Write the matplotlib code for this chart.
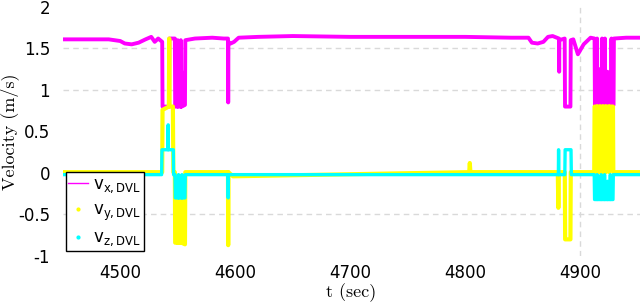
# DVL velocity components vs time
import matplotlib
matplotlib.use('Agg')
import matplotlib.pyplot as plt
from matplotlib.lines import Line2D

# --- data (t in sec, v in m/s) ---
t_x = [4450, 4470, 4490, 4500, 4504, 4510, 4516, 4522, 4527, 4530, 4533, 4536.5,
       4536.8, 4542.5, 4542.8, 4547.5, 4547.8, 4549.8, 4550.0, 4550.2, 4552.5, 4552.7,
       4552.9, 4553.3, 4553.5, 4556.3, 4556.6,
       4565, 4580, 4590, 4593.7, 4593.9, 4594.1, 4596, 4599, 4603, 4620, 4650, 4700,
       4750, 4800, 4840, 4855, 4858, 4863, 4868, 4872, 4876,
       4881.5, 4881.7, 4881.9, 4886.5, 4886.8, 4891.5, 4891.8, 4894, 4898, 4903, 4909,
       4912.5, 4912.8, 4914.5, 4914.7, 4914.9, 4916.5, 4916.7, 4916.9, 4918.8, 4919.0,
       4919.2, 4921.3, 4921.5, 4921.7, 4923.5, 4923.7, 4923.9, 4925.0, 4925.2, 4925.4,
       4927.0, 4927.2, 4927.4, 4929.0, 4929.3, 4940, 4952]
v_x = [1.61, 1.61, 1.61, 1.59, 1.56, 1.55, 1.57, 1.61, 1.64, 1.58, 1.62, 1.58,
       0.80, 0.80, 1.62, 1.62, 0.80, 0.80, 1.60, 0.80, 0.80, 1.60,
       0.80, 1.22, 0.80, 0.82, 1.60,
       1.62, 1.63, 1.62, 1.62, 0.85, 1.58, 1.56, 1.58, 1.63, 1.64, 1.65, 1.64,
       1.64, 1.64, 1.63, 1.63, 1.57, 1.56, 1.58, 1.64, 1.65,
       1.62, 1.22, 1.60, 1.62, 0.80, 0.80, 1.60, 1.61, 1.43, 1.55, 1.63,
       1.62, 0.82, 0.82, 1.62, 0.82, 0.82, 1.25, 0.82, 0.82, 1.62,
       0.82, 0.82, 1.62, 0.82, 0.82, 1.22, 0.82, 0.82, 1.20, 0.82,
       0.82, 1.62, 0.82, 0.82, 1.62, 1.63, 1.63]

t_y = [4450, 4536.5, 4536.8, 4542.3, 4542.6, 4542.9, 4545.8, 4546.2, 4547.5, 4547.8,
       4549.5, 4549.7, 4549.9, 4551.5, 4551.7, 4551.9, 4553.0, 4553.2, 4553.4, 4556.3,
       4556.6, 4593.7, 4593.9, 4594.1, 4598, 4803.5, 4804, 4804.5,
       4880.5, 4881, 4881.5, 4886.6, 4886.9, 4891.5, 4891.8,
       4912.2, 4912.5, 4914.5, 4914.7, 4914.9, 4917.0, 4917.2, 4917.4, 4919.5, 4919.7,
       4919.9, 4922.0, 4922.2, 4922.4, 4925.0, 4925.2, 4925.4, 4928.5, 4928.8, 4952]
v_y = [0.01, 0.01, 0.76, 0.80, 1.62, 0.80, 0.80, 0.01, 0.01, -0.84,
       -0.84, -0.30, -0.84, -0.84, -0.20, -0.84, -0.84, -0.30, -0.84, -0.86,
       0.01, 0.01, -0.87, 0.01, -0.04, 0.01, 0.12, 0.01,
       0.01, -0.42, 0.01, 0.01, -0.80, -0.80, 0.01,
       0.01, 0.80, 0.80, 0.01, 0.80, 0.80, 0.01, 0.80, 0.80, 0.01,
       0.80, 0.80, 0.01, 0.80, 0.80, 0.01, 0.80, 0.80, 0.01, 0.01]

t_z = [4450, 4536.0, 4536.3, 4541.5, 4541.7, 4541.9, 4546.2, 4546.4, 4547.6, 4547.9,
       4550.5, 4550.7, 4550.9, 4553.5, 4553.7, 4553.9, 4556.3, 4556.6,
       4593.7, 4593.9, 4594.1,
       4881.0, 4881.2, 4881.4, 4886.6, 4886.9, 4892.0, 4892.3,
       4912.2, 4912.5, 4914.5, 4914.7, 4914.9, 4918.0, 4918.2, 4918.4, 4921.0, 4921.2,
       4921.4, 4923.6, 4923.8, 4924.0, 4926.0, 4926.2, 4926.4, 4928.5, 4928.8, 4952]
v_z = [-0.02, -0.02, 0.28, 0.28, 0.58, 0.28, 0.28, -0.02, -0.02, -0.30,
       -0.30, -0.02, -0.30, -0.30, -0.02, -0.30, -0.30, -0.02,
       -0.02, -0.30, -0.02,
       -0.02, 0.28, -0.02, -0.02, 0.28, 0.28, -0.02,
       -0.02, -0.32, -0.32, -0.02, -0.32, -0.32, -0.02, -0.32, -0.32, -0.02,
       -0.32, -0.32, -0.10, -0.32, -0.32, -0.02, -0.32, -0.32, -0.02, -0.02]

y_ticks = [-1, -0.5, 0, 0.5, 1, 1.5, 2]
y_ticklabels = ['-1', '-0.5', '0', '0.5', '1', '1.5', '2']
y_marks = [-1, -0.5, 0, 1, 1.5]      # petits traits visibles
y_grid = [-0.5, 1, 1.5]              # lignes pointillees visibles
x_ticks = [4500, 4600, 4700, 4800, 4900]
labels = [r'$\mathregular{v_{x,DVL}}$', r'$\mathregular{v_{y,DVL}}$', r'$\mathregular{v_{z,DVL}}$']
colors = ['#ff00ff', '#ffff00', '#00ffff']

fig = plt.figure(figsize=(6.4, 3.04), dpi=100)
ax = fig.add_axes([0.098, 0.158, 0.902, 0.819])

# grille: quelques lignes horizontales, verticale seulement a 4900
for yv in y_grid:
    ax.axhline(yv, color='#d9d9d9', lw=1, ls=(0, (4, 3)), zorder=0)
ax.axvline(4900, color='#d9d9d9', lw=1, ls=(0, (4, 3)), zorder=0)

ax.plot(t_x, v_x, color=colors[0], lw=2.8, zorder=2)
ax.plot(t_y, v_y, color=colors[1], lw=3.0, zorder=3)
ax.plot(t_z, v_z, color=colors[2], lw=2.4, zorder=4)

ax.set_xlim(4450, 4952)
ax.set_ylim(-1, 2)
ax.set_yticks(y_ticks)
ax.set_yticklabels(y_ticklabels)
ax.set_yticks(y_marks, minor=True)
ax.set_xticks(x_ticks)
ax.set_xticks([4900], minor=True)
for s in ax.spines.values():
    s.set_visible(False)
ax.tick_params(axis='y', which='major', length=0, labelsize=12, pad=9)
ax.tick_params(axis='y', which='minor', direction='in', length=4, color='#555555',
               left=True, right=True)
ax.tick_params(axis='x', which='major', length=0, labelsize=12, pad=6)
ax.tick_params(axis='x', which='minor', direction='in', length=6, color='#555555',
               top=True, bottom=True)

ax.set_xlabel('t (sec)', fontname='cmr10', fontsize=13)
ax.set_ylabel('Velocity (m/s)', fontname='cmr10', fontsize=13)
ax.xaxis.set_label_coords(0.5, -0.11)
ax.yaxis.set_label_coords(-0.075, 0.5)

handles = [Line2D([], [], color=colors[0], lw=1),
           Line2D([], [], color=colors[1], marker='.', ls='none', ms=4),
           Line2D([], [], color=colors[2], marker='.', ls='none', ms=4)]
leg = ax.legend(handles, labels, loc='lower left', bbox_to_anchor=(0.005, 0.02),
                borderaxespad=0, fontsize=12, handlelength=1.2, handletextpad=0.3,
                labelspacing=0.35, borderpad=0.15, fancybox=False, framealpha=1,
                edgecolor='black', numpoints=1)
leg.get_frame().set_linewidth(1)
leg.set_zorder(10)

fig.savefig('out.png', dpi=100)
